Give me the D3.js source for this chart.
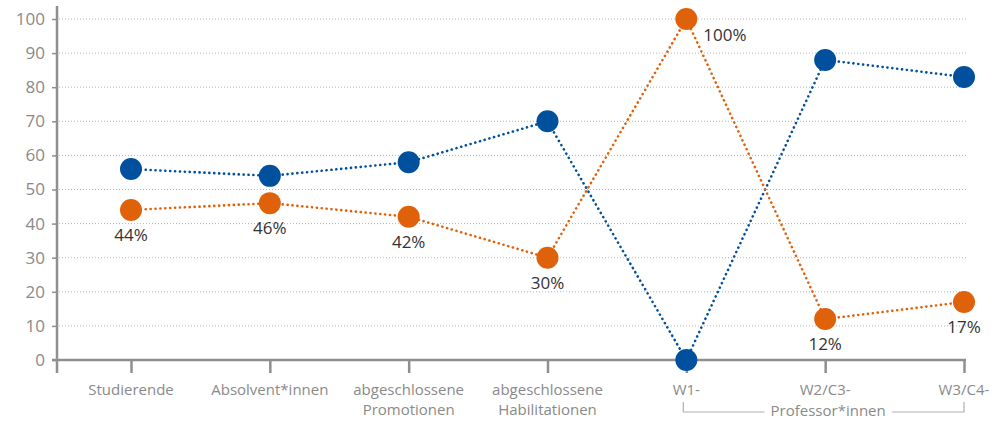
<!DOCTYPE html>
<html><head><meta charset="utf-8">
<script src="https://cdn.jsdelivr.net/npm/d3@7"></script>
<style>
html,body{margin:0;padding:0;background:#fff;}
svg{display:block;font-family:"Open Sans",sans-serif;}
</style></head>
<body>
<svg id="chart" width="1001" height="422"></svg>
<script>
const categories = ["Studierende","Absolvent*innen","abgeschlossene Promotionen","abgeschlossene Habilitationen","W1-","W2/C3-","W3/C4-"];
const categoryLines = [["Studierende"],["Absolvent*innen"],["abgeschlossene","Promotionen"],["abgeschlossene","Habilitationen"],["W1-"],["W2/C3-"],["W3/C4-"]];
const blueValues = [56,54,58,70,0,88,83];
const orangeValues = [44,46,42,30,100,12,17];
const orangeLabels = ["44%","46%","42%","30%","100%","12%","17%"];
const yTicks = [0,10,20,30,40,50,60,70,80,90,100];
const groupLabel = "Professor*innen";

const svg = d3.select("#chart");
const axisColor = "#8f8f8f", textGray = "#8a8a8a";
const blue = "#00509e", orange = "#df620b";

const x = d3.scalePoint().domain(categories).range([131, 964]);
const y = d3.scaleLinear().domain([0,100]).range([360, 19]);
const axisX0 = 57, axisX1 = 966;

// gridlines
svg.append("g").selectAll("line").data(yTicks.filter(d=>d>0)).join("line")
  .attr("x1", axisX0+2).attr("x2", axisX1).attr("y1", d=>y(d)).attr("y2", d=>y(d))
  .attr("stroke", "#b5b5b5").attr("stroke-width", 1).attr("stroke-dasharray", "1,2");

// y axis
const yAxis = d3.axisLeft(y).tickValues(yTicks).tickSize(5).tickPadding(7);
const gy = svg.append("g").attr("transform", `translate(${axisX0},0)`).call(yAxis);
gy.select(".domain").remove();
gy.selectAll(".tick line").attr("stroke", axisColor).attr("stroke-width", 1.5);
gy.selectAll(".tick text").attr("fill", textGray).attr("font-size", 17).attr("font-family", "Open Sans, sans-serif");
svg.append("line").attr("x1", axisX0).attr("x2", axisX0).attr("y1", 6).attr("y2", 373)
  .attr("stroke", axisColor).attr("stroke-width", 2.5);

// x axis
svg.append("line").attr("x1", 52).attr("x2", axisX1).attr("y1", y(0)).attr("y2", y(0))
  .attr("stroke", axisColor).attr("stroke-width", 2.5);
const xAxis = d3.axisBottom(x).tickSize(13).tickFormat("");
const gx = svg.append("g").attr("transform", `translate(0,${y(0)})`).call(xAxis);
gx.select(".domain").remove();
gx.selectAll(".tick line").attr("stroke", axisColor).attr("stroke-width", 2.5);

// category labels
const catG = svg.append("g");
categories.forEach((c,i)=>{
  const t = catG.append("text").attr("x", x(c)).attr("y", 395).attr("text-anchor","middle")
    .attr("fill", textGray).attr("font-size", 15);
  categoryLines[i].forEach((ln,j)=>{
    t.append("tspan").attr("x", x(c)).attr("dy", j===0?0:20).text(ln);
  });
});

// bracket
const bx0 = x("W1-")-3, bx1 = x("W3/C4-"), by = 412, mid = x("W2/C3-")+3;
const gl = svg.append("text").attr("x", mid).attr("y", 416).attr("text-anchor","middle")
  .attr("fill", textGray).attr("font-size", 15).text(groupLabel);
const w = gl.node().getComputedTextLength();
const bPath = `M${bx0},${by-10}V${by}H${mid-w/2-6} M${mid+w/2+6},${by}H${bx1}V${by-10}`;
svg.append("path").attr("d", bPath).attr("fill","none").attr("stroke","#b0b0b0").attr("stroke-width",1.2);

// series
const line = d3.line().x((d,i)=>x(categories[i])).y(d=>y(d));
function series(vals, color){
  svg.append("path").datum(vals).attr("d", line).attr("fill","none")
    .attr("stroke", color).attr("stroke-width", 2.6).attr("stroke-linecap","round")
    .attr("stroke-dasharray","0.1,4.8");
}
series(blueValues, blue);
series(orangeValues, orange);
svg.append("g").selectAll("circle").data(blueValues).join("circle")
  .attr("cx",(d,i)=>x(categories[i])).attr("cy", d=>y(d)).attr("r", 11).attr("fill", blue);
svg.append("g").selectAll("circle").data(orangeValues).join("circle")
  .attr("cx",(d,i)=>x(categories[i])).attr("cy", d=>y(d)).attr("r", 11).attr("fill", orange);

// labels
svg.append("g").selectAll("text").data(orangeValues).join("text")
  .attr("x",(d,i)=> d===100 ? x(categories[i])+17 : x(categories[i]))
  .attr("y",(d,i)=> d===100 ? y(d)+22 : y(d)+31)
  .attr("text-anchor",(d)=> d===100 ? "start" : "middle")
  .attr("fill","#333").attr("font-size",17)
  .text((d,i)=>orangeLabels[i]);
</script>
</body></html>
